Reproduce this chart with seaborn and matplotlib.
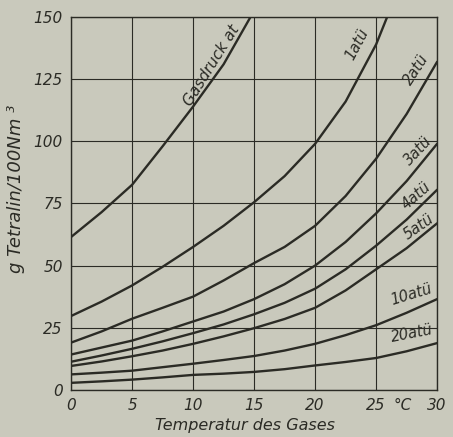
import numpy as np
import pandas as pd
import matplotlib
matplotlib.use("Agg")
import matplotlib.pyplot as plt
import seaborn as sns

# ---- data ----
x_full = [0, 2.5, 5, 7.5, 10, 12.5, 15, 17.5, 20, 22.5, 25, 27.5, 30]

gas_x = [0, 2.5, 5, 7.5, 10, 12.5, 14.7]
gas_y = [61.5, 71.5, 82.5, 98, 114, 131, 150]

atu1_x = [0, 2.5, 5, 7.5, 10, 12.5, 15, 17.5, 20, 22.5, 25, 25.9]
atu1_y = [29.7, 35.5, 42, 49.5, 57.5, 66, 75.5, 86, 99, 116, 139, 150]

atu2_y = [19, 23.5, 28.6, 33, 37.5, 44, 51, 57.5, 66, 78, 93, 111, 132]
atu3_y = [14.2, 17, 19.8, 23.5, 27.5, 31.5, 36.5, 42.5, 50, 59.5, 71, 84, 99]
atu4_y = [11.3, 13.8, 16.5, 19.5, 22.8, 26.3, 30.4, 35, 40.7, 48.5, 58, 68.5, 80.5]
atu5_y = [9.6, 11.4, 13.5, 15.8, 18.5, 21.5, 24.8, 28.5, 33, 40, 48.5, 57, 67]
atu10_y = [6.2, 6.9, 7.7, 9.1, 10.5, 12, 13.6, 15.8, 18.5, 22, 26, 31, 36.5]
atu20_y = [2.8, 3.4, 4.1, 5, 6, 6.5, 7.2, 8.3, 9.8, 11.2, 12.8, 15.5, 18.8]

x_ticks = [0, 5, 10, 15, 20, 25, 30]
y_ticks = [0, 25, 50, 75, 100, 125, 150]

labels = ["Gasdruck at", "1atü", "2atü", "3atü", "4atü", "5atü", "10atü", "20atü"]
# label positions (data coords) and rotation
lab_x = [11.5, 23.4, 28.3, 28.4, 28.3, 28.5, 27.9, 27.9]
lab_y = [130.5, 139, 129, 96, 78, 65.5, 38.5, 22.5]
lab_rot = [58, 62, 57, 47, 41, 35, 17, 11]
lab_size = [11, 10.5, 10.5, 10.5, 10.5, 10.5, 10.5, 10.5]

frames = []
frames.append(pd.DataFrame({"x": gas_x, "y": gas_y, "curve": "gas"}))
frames.append(pd.DataFrame({"x": atu1_x, "y": atu1_y, "curve": "1"}))
for name, ys in [("2", atu2_y), ("3", atu3_y), ("4", atu4_y), ("5", atu5_y),
                 ("10", atu10_y), ("20", atu20_y)]:
    frames.append(pd.DataFrame({"x": x_full, "y": ys, "curve": name}))
df = pd.concat(frames, ignore_index=True)

bg = "#c9c9bc"
ink = "#2b2b25"

sns.set_theme(style="white")
plt.rcParams["font.family"] = ["DejaVu Sans"]

fig = plt.figure(figsize=(4.53, 4.37), dpi=100, facecolor=bg)
ax = fig.add_axes([0.157, 0.108, 0.808, 0.853])
ax.set_facecolor(bg)

curves = df["curve"].unique()
sns.lineplot(data=df, x="x", y="y", hue="curve", units="curve", estimator=None,
             sort=False, palette={c: ink for c in curves}, linewidth=1.7,
             legend=False, ax=ax)

ax.set_xlim(0, 30)
ax.set_ylim(0, 150)
ax.set_xticks(x_ticks)
ax.set_yticks(y_ticks)
ax.set_xticklabels([str(t) for t in x_ticks], fontstyle="italic", fontsize=11, color=ink)
ax.set_yticklabels([str(t) for t in y_ticks], fontstyle="italic", fontsize=11, color=ink)
ax.tick_params(length=0, pad=6)
ax.grid(True, color=ink, linewidth=0.8)
for s in ax.spines.values():
    s.set_visible(True)
    s.set_color(ink)
    s.set_linewidth(1.0)

ax.text(27.2, -3.4, "°C", ha="center", va="top", fontstyle="italic",
        fontsize=11, color=ink, clip_on=False)

ax.set_xlabel("Temperatur des Gases", fontstyle="italic", fontsize=11.5,
              color=ink)
ax.xaxis.set_label_coords(0.475, -0.075)
ax.set_ylabel("g Tetralin/100Nm ³", fontstyle="italic", fontsize=13,
              color=ink)
ax.yaxis.set_label_coords(-0.127, 0.54)

for t, lx, ly, r, fs in zip(labels, lab_x, lab_y, lab_rot, lab_size):
    ax.text(lx, ly, t, rotation=r, ha="center", va="center", fontstyle="italic",
            fontsize=fs, color=ink, rotation_mode="anchor")

fig.savefig("out.png", dpi=100, facecolor=bg)
